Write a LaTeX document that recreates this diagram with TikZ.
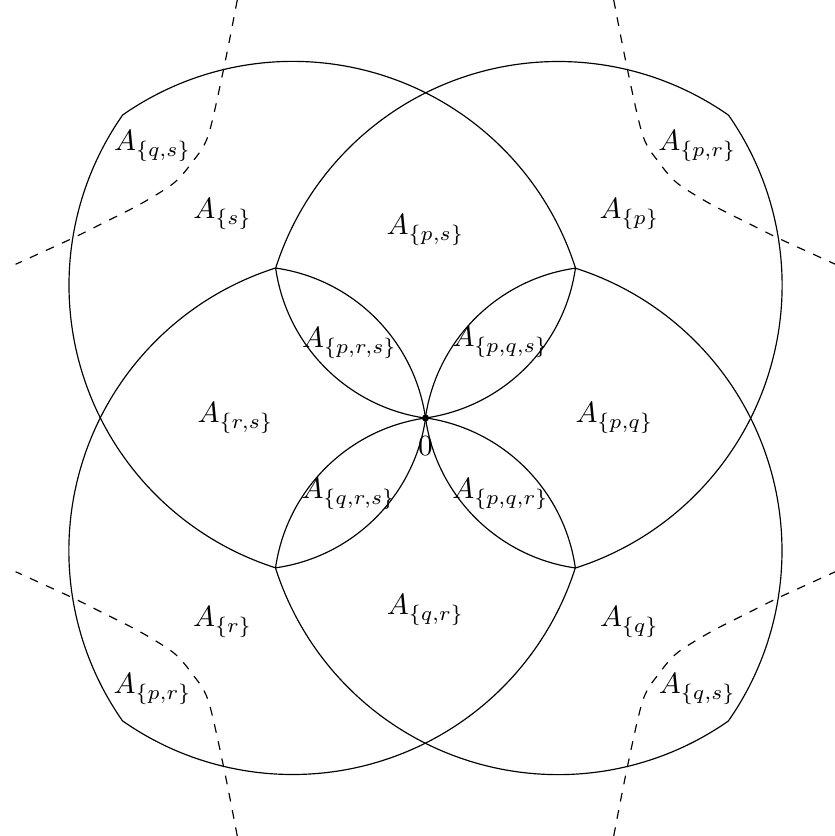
\documentclass[tikz,border=0pt]{standalone}
\usepackage{amsmath}
\usepackage{tikz}
\usetikzlibrary{positioning}

\begin{document}
\begin{tikzpicture}[
  x=1.8cm, y=1.8cm,
  region/.style={draw=black, thin},
  cut/.style={draw=black, thin, dashed},
  dot/.style={circle, fill=black, inner sep=0pt, minimum size=2.4pt},
  lbl/.style={inner sep=0pt},
]
  \useasboundingbox (-2.837,-2.787) rectangle (2.730,2.787);

  % region s, the others are the same turned
  \draw[region] (0,0)
    arc[start angle=-81.87, end angle=-8.13, radius=1.1785]
    arc[start angle=17.66, end angle=125, radius=1.978]
    arc[start angle=145, end angle=252.34, radius=1.978]
    arc[start angle=-81.87, end angle=-8.13, radius=1.1785] -- cycle;
  \draw[region, rotate=-90] (0,0)
    arc[start angle=-81.87, end angle=-8.13, radius=1.1785]
    arc[start angle=17.66, end angle=125, radius=1.978]
    arc[start angle=145, end angle=252.34, radius=1.978]
    arc[start angle=-81.87, end angle=-8.13, radius=1.1785] -- cycle;
  \draw[region, rotate=180] (0,0)
    arc[start angle=-81.87, end angle=-8.13, radius=1.1785]
    arc[start angle=17.66, end angle=125, radius=1.978]
    arc[start angle=145, end angle=252.34, radius=1.978]
    arc[start angle=-81.87, end angle=-8.13, radius=1.1785] -- cycle;
  \draw[region, rotate=90] (0,0)
    arc[start angle=-81.87, end angle=-8.13, radius=1.1785]
    arc[start angle=17.66, end angle=125, radius=1.978]
    arc[start angle=145, end angle=252.34, radius=1.978]
    arc[start angle=-81.87, end angle=-8.13, radius=1.1785] -- cycle;

  % dashed borders in the corners
  \draw[cut] plot[smooth] coordinates {(-1.255,2.787) (-1.345,2.331) (-1.45,1.88)
    (-1.56,1.70) (-1.68,1.565) (-1.9,1.427) (-2.155,1.297) (-2.367,1.192) (-2.733,1.025)};
  \draw[cut, xscale=-1] plot[smooth] coordinates {(-1.255,2.787) (-1.345,2.331) (-1.45,1.88)
    (-1.56,1.70) (-1.68,1.565) (-1.9,1.427) (-2.155,1.297) (-2.367,1.192) (-2.733,1.025)};
  \draw[cut, yscale=-1] plot[smooth] coordinates {(-1.255,2.787) (-1.345,2.331) (-1.45,1.88)
    (-1.56,1.70) (-1.68,1.565) (-1.9,1.427) (-2.155,1.297) (-2.367,1.192) (-2.733,1.025)};
  \draw[cut, scale=-1] plot[smooth] coordinates {(-1.255,2.787) (-1.345,2.331) (-1.45,1.88)
    (-1.56,1.70) (-1.68,1.565) (-1.9,1.427) (-2.155,1.297) (-2.367,1.192) (-2.733,1.025)};

  \node[dot] (o) at (0,0) {};
  \node[below=1.5pt of o] (zero) {$0$};

  \node[lbl] (aqs1) at (-1.82,1.813) {$A_{\{q,s\}}$};
  \node[lbl] (apr1) at (1.813,1.813) {$A_{\{p,r\}}$};
  \node[lbl] (apr2) at (-1.82,-1.807) {$A_{\{p,r\}}$};
  \node[lbl] (aqs2) at (1.813,-1.807) {$A_{\{q,s\}}$};

  \node[lbl] (as) at (-1.353,1.36) {$A_{\{s\}}$};
  \node[lbl] (ap) at (1.36,1.36) {$A_{\{p\}}$};
  \node[lbl] (ar) at (-1.353,-1.36) {$A_{\{r\}}$};
  \node[lbl] (aq) at (1.36,-1.36) {$A_{\{q\}}$};

  \node[lbl] (aps) at (0,1.253) {$A_{\{p,s\}}$};
  \node[lbl] (aqr) at (0,-1.28) {$A_{\{q,r\}}$};
  \node[lbl] (ars) at (-1.267,0) {$A_{\{r,s\}}$};
  \node[lbl] (apq) at (1.26,0) {$A_{\{p,q\}}$};

  \node[lbl] (aprs) at (-0.507,0.5) {$A_{\{p,r,s\}}$};
  \node[lbl] (apqs) at (0.5,0.507) {$A_{\{p,q,s\}}$};
  \node[lbl] (aqrs) at (-0.513,-0.507) {$A_{\{q,r,s\}}$};
  \node[lbl] (apqr) at (0.5,-0.507) {$A_{\{p,q,r\}}$};
\end{tikzpicture}
\end{document}
